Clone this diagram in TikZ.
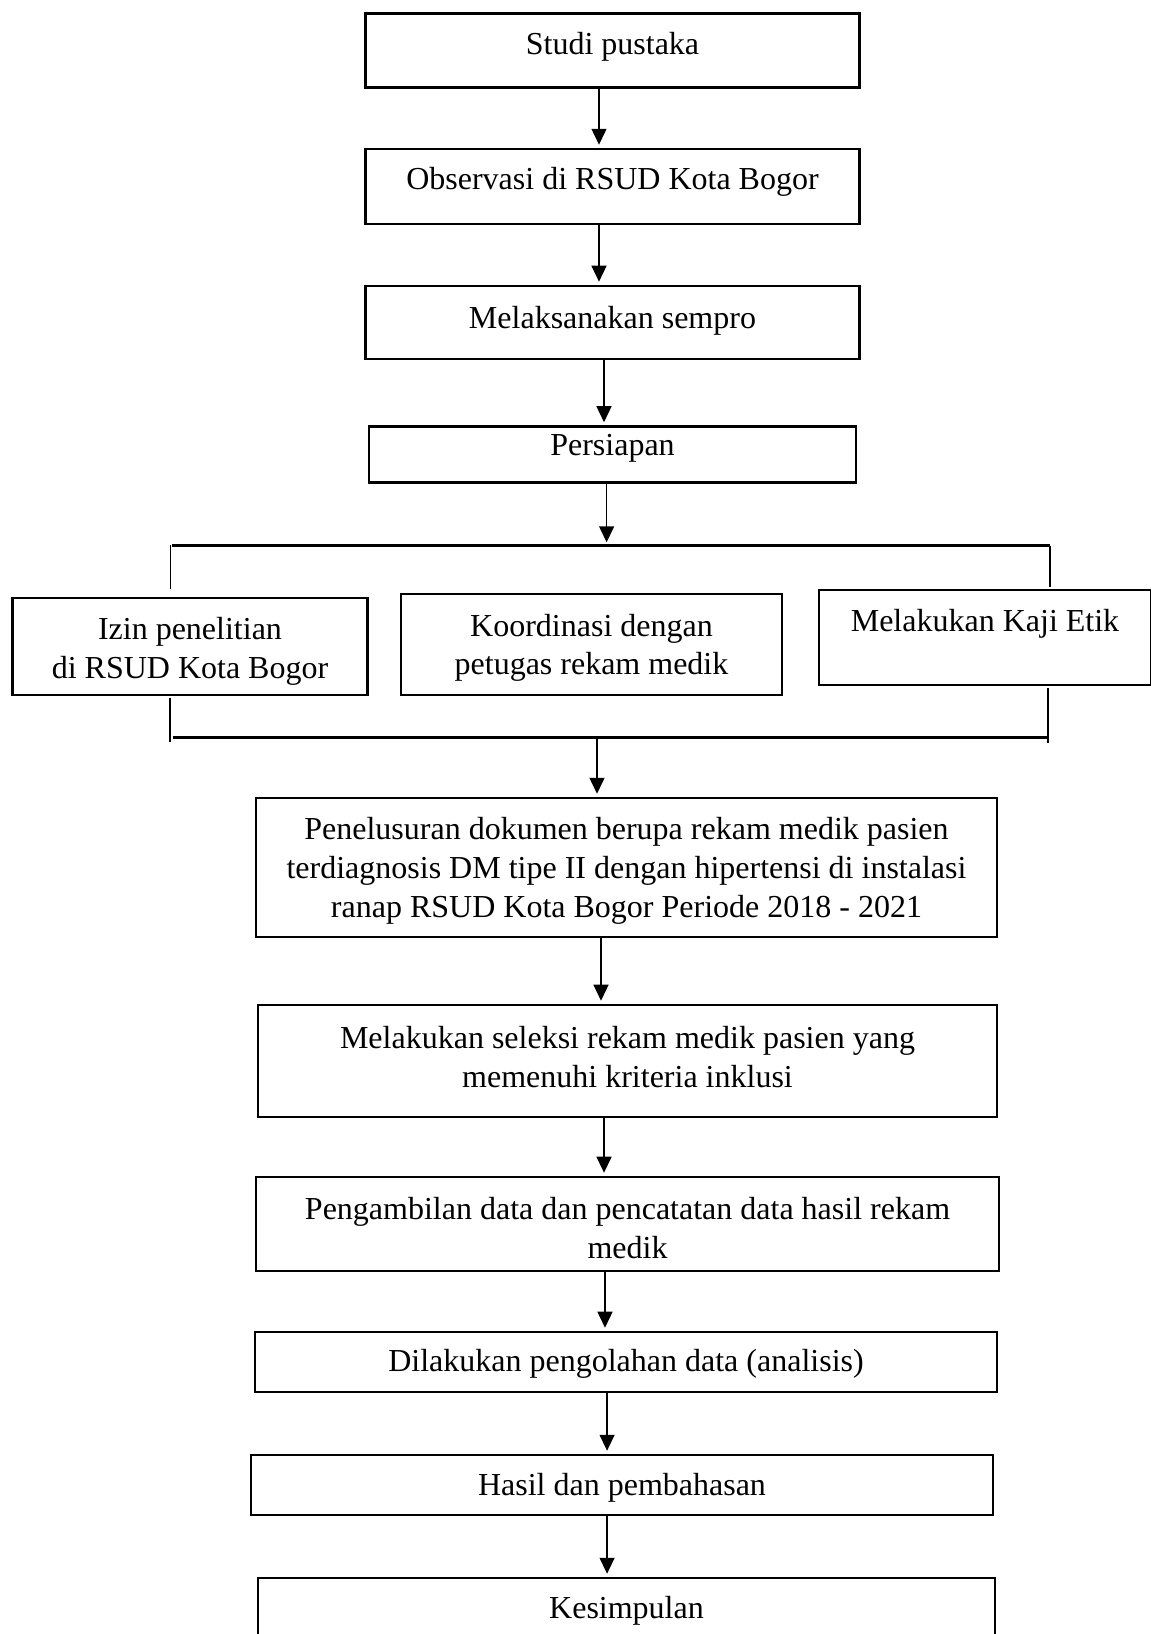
\documentclass[tikz,border=0pt]{standalone}
\usepackage{fontspec}
\setmainfont{Liberation Serif}
\usetikzlibrary{arrows.meta}

\begin{document}
\begin{tikzpicture}[x=0.375pt,y=-0.375pt,
  every node/.style={font=\fontsize{12}{14.6}\selectfont},
  box/.style={draw,line width=0.8pt,align=center,inner sep=0pt,text height=10.9pt,text depth=3pt},
  mbox/.style={draw,line width=0.8pt,align=center,inner sep=0pt},
  arr/.style={-{Triangle[length=6pt,width=5.6pt]},line width=0.6pt,shorten >=1.2pt},
  brace/.style={line width=0.9pt},
  stem/.style={line width=0.4pt}]
\useasboundingbox (0,0) rectangle (1150,1634);
\node[box,minimum width=185.25pt,minimum height=27.75pt,text depth=8pt] (studi) at (612.5,50.5) {Studi pustaka};
\node[box,minimum width=185.25pt,minimum height=28.1pt,text depth=8.6pt] (observasi) at (612.5,186.5) {Observasi di RSUD Kota Bogor};
\node[box,minimum width=185.25pt,minimum height=27.4pt,text depth=6.7pt] (sempro) at (612.5,322.5) {Melaksanakan sempro};
\node[box,minimum width=182.6pt,minimum height=21pt,text depth=9.8pt] (persiapan) at (612.5,454.5) {Persiapan};
\node[mbox,minimum width=133.1pt,minimum height=36.4pt] (izin) at (190,646.5) {\raisebox{-1.9pt}[\height][\depth]{\begin{tabular}{@{}c@{}}Izin penelitian\\di RSUD Kota Bogor\end{tabular}}};
\node[mbox,minimum width=142.9pt,minimum height=37.9pt] (koordinasi) at (591.5,644.5) {\raisebox{-1.2pt}[\height][\depth]{\begin{tabular}{@{}c@{}}Koordinasi dengan\\petugas rekam medik\end{tabular}}};
\node[box,minimum width=124.5pt,minimum height=35.6pt,text depth=15.4pt] (etik) at (985,637.5) {Melakukan Kaji Etik};
\node[mbox,minimum width=277.9pt,minimum height=52.1pt] (telusur) at (626.5,867.5) {\raisebox{-1.2pt}[\height][\depth]{\begin{tabular}{@{}c@{}}Penelusuran dokumen berupa rekam medik pasien\\terdiagnosis DM tipe II dengan hipertensi di instalasi\\ranap RSUD Kota Bogor Periode 2018 - 2021\end{tabular}}};
\node[mbox,minimum width=277.1pt,minimum height=42pt] (seleksi) at (627.5,1061) {\raisebox{0.4pt}[\height][\depth]{\begin{tabular}{@{}c@{}}Melakukan seleksi rekam medik pasien yang\\memenuhi kriteria inklusi\end{tabular}}};
\node[mbox,minimum width=278.6pt,minimum height=35.25pt] (ambil) at (627.5,1224) {\raisebox{-2.8pt}[\height][\depth]{\begin{tabular}{@{}c@{}}Pengambilan data dan pencatatan data hasil rekam\\medik\end{tabular}}};
\node[box,minimum width=278.25pt,minimum height=22.5pt,text depth=3.8pt] (olah) at (626,1362) {Dilakukan pengolahan data (analisis)};
\node[box,minimum width=278.25pt,minimum height=22.5pt] (hasil) at (622,1485) {Hasil dan pembahasan};
\node[box,minimum width=276.4pt,minimum height=22.5pt] (simpul) at (626.5,1608) {Kesimpulan};
\coordinate (topL) at (172,545.5);
\coordinate (topR) at (1050,545.5);
\coordinate (topLstem) at (170.5,545);
\coordinate (topLend) at (170.5,589);
\coordinate (topRend) at (1050,587);
\coordinate (botL) at (172.5,737.5);
\coordinate (botR) at (1049,737.5);
\coordinate (botLend) at (170,698);
\coordinate (botRend) at (1048,688);
\coordinate (botLfoot) at (170,742);
\coordinate (botRfoot) at (1048,743);
\draw[brace] (topL) -- (topR);
\draw[stem] (topLstem) -- (topLend);
\draw[stem] (topR) -- (topRend);
\draw[brace] (botL) -- (botR);
\draw[stem] (botLend) -- (botLfoot);
\draw[stem] (botRend) -- (botRfoot);
\draw[arr] ([xshift=-5.06pt]studi.south) -- ([xshift=-5.06pt]studi.south |- observasi.north);
\draw[arr] ([xshift=-5.06pt]observasi.south) -- ([xshift=-5.06pt]observasi.south |- sempro.north);
\draw[arr] ([xshift=-3.19pt]sempro.south) -- ([xshift=-3.19pt]sempro.south |- persiapan.north);
\draw[arr] ([xshift=-2.2pt]persiapan.south) -- ([xshift=-2.2pt]persiapan.south |- topL);
\draw[arr] ([xshift=-11.06pt]telusur.north |- botL) -- ([xshift=-11.06pt]telusur.north);
\draw[arr] ([xshift=-9.56pt]telusur.south) -- ([xshift=-9.56pt]telusur.south |- seleksi.north);
\draw[arr] ([xshift=-8.8pt]seleksi.south) -- ([xshift=-8.8pt]seleksi.south |- ambil.north);
\draw[arr] ([xshift=-8.44pt]ambil.south) -- ([xshift=-8.44pt]ambil.south |- olah.north);
\draw[arr] ([xshift=-7.1pt]olah.south) -- ([xshift=-7.1pt]olah.south |- hasil.north);
\draw[arr] ([xshift=-5.6pt]hasil.south) -- ([xshift=-5.6pt]hasil.south |- simpul.north);
\end{tikzpicture}
\end{document}
